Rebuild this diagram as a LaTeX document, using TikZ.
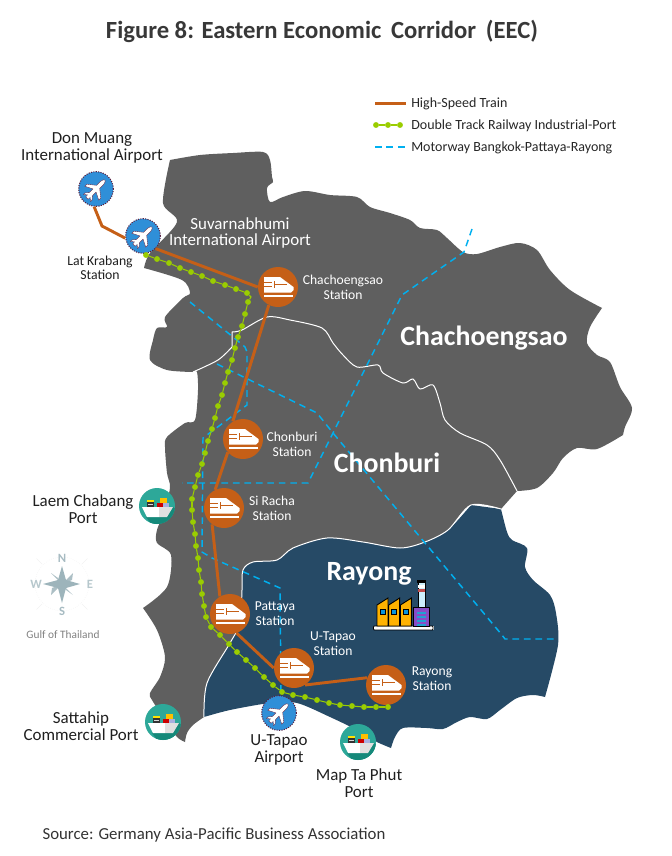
\documentclass[tikz,border=0pt]{standalone}
\usepackage{fontspec}
\setmainfont{Carlito}
\definecolor{land}{HTML}{5F5F5F}
\definecolor{ray}{HTML}{264A66}
\definecolor{rail}{HTML}{C55F17}
\definecolor{grn}{HTML}{9ACD00}
\definecolor{mway}{HTML}{00B0F0}
\definecolor{skyb}{HTML}{2F8FD8}
\definecolor{plum}{HTML}{5A1F3F}
\definecolor{teal1}{HTML}{2DA899}
\definecolor{teal2}{HTML}{15897A}
\definecolor{compc}{HTML}{9DB4BB}
\newcommand{\fsz}[2]{\fontsize{#1}{#2}\selectfont}
\tikzset{
  x=0.75pt,y=-0.75pt,
  stn/.style={circle,fill=rail,minimum size=30pt,inner sep=0pt},
  apt/.style={circle,fill=skyb,draw=plum,densely dotted,line width=.8pt,minimum size=26pt,inner sep=0pt},
  prt/.style={circle,fill=teal1,minimum size=27pt,inner sep=0pt},
  blk/.style={text=black!88,align=center,font=\fsz{12.7}{12.8}},
  blks/.style={text=black!88,align=center,font=\fsz{10.3}{10.5}},
  wht/.style={text=white,align=center,font=\fsz{10.2}{11}},
  whtl/.style={text=white,align=center,font=\fsz{12.7}{12.4}},
  bigl/.style={text=white,font=\bfseries\fsz{20.9}{23}},
  leg/.style={text=black!85,anchor=west,inner sep=0pt,font=\fsz{10.5}{12}},
  hsr/.style={rail,line width=2.2pt},
  dbl/.style={grn,line width=.8pt},
  gdot/.style={circle,fill=grn,minimum size=4.4pt,inner sep=0pt},
  mwy/.style={mway,line width=1.1pt,dash pattern=on 5pt off 3.6pt},
  bord/.style={white,line width=.75pt},
  pics/trainicon/.style={code={
    \fill[white] (-14,-10) -- (2,-10) -- (15.5,0) -- (15.5,3) -- (13,5.5) -- (-14,5.5) -- cycle;
    \fill[white] (-14,7.5) rectangle (15,9.5);
    \fill[rail] (-14,-5) rectangle (-6,-3.7);
    \fill[rail] (-14,-1) rectangle (-6,.3);
    \fill[rail] (-4.5,-6) rectangle (-3.3,1);
    \fill[rail] (-3.3,-2.8) rectangle (9,-1.6);
  }},
  pics/planeicon/.style={code={
    \begin{scope}[rotate=45,scale=.85]
    \fill[white,draw=plum,line width=.25pt]
      (-15,-2) -- (-12,-2.2) -- (-15,-6) -- (-12.5,-6) -- (-8.5,-2.6) -- (-2.5,-2.6)
      -- (-7,-11.5) -- (-3.5,-11.5) -- (3.5,-2.6) -- (10,-2.6) .. controls (13,-2.6) and (15,-1) .. (15,0)
      .. controls (15,1) and (13,2.6) .. (10,2.6) -- (3.5,2.6) -- (-3.5,11.5) -- (-7,11.5) -- (-2.5,2.6)
      -- (-8.5,2.6) -- (-12.5,6) -- (-15,6) -- (-12,2.2) -- (-15,2) -- cycle;
    \end{scope}
  }},
  pics/shipicon/.style={code={
    \begin{scope}
    \clip (0,0) circle (18);
    \fill[teal2] (-11,11) -- (16,1) -- (40,20) -- (10,40) -- cycle;
    \end{scope}
    \fill[black!80] (-10,-6) rectangle (-3,1);
    \fill[yellow!85!orange] (-10,-6) rectangle (-3,-4);
    \fill[white!85!black] (-9,-2.5) rectangle (-4,-1);
    \fill[red!80!black] (0,-3) rectangle (6,1);
    \fill[orange!50!yellow] (3,-8) rectangle (10,-3);
    \fill[cyan!30!blue!35] (6,-3) rectangle (12,1);
    \fill[white] (-15,1) -- (2,1) -- (2,11) -- (-10,11) -- cycle;
    \fill[black!12] (2,1) -- (16,1) -- (10,11) -- (2,11) -- cycle;
  }},
}
\begin{document}
\begin{tikzpicture}
\path[use as bounding box] (0,0) rectangle (671,856);
% land
\fill[land] plot[smooth,tension=.5] coordinates {(170,160)(200,155)(233,153)(263,152)(270,160)(272,177)(273,182)(267,188)(270,202)(283,197)(305,191)(330,195)(357,197)(370,207)(390,213)(410,220)(420,228)(437,230)(447,238)(463,252)(477,254)(500,247)(520,243)(537,250)(550,270)(570,290)(602,308)}
 -- plot[smooth,tension=.5] coordinates {(602,308)(590,327)(587,343)(597,355)(610,362)(620,387)(632,408)(625,427)(623,435)}
 -- plot[smooth,tension=.5] coordinates {(623,435)(597,449)(577,448)(563,458)(553,473)(537,488)(517,491)}
 -- (501,509)
 -- plot[smooth,tension=.5] coordinates {(501,509)(471,505)(448,530)(425,542)(400,548)(363,542)(327,538)(293,548)(277,560)(253,562)(243,570)(242,590)(240,623)(230,643)(207,683)(204,717)}
 -- plot[smooth,tension=.5] coordinates {(204,717)(193,725)(187,733)(185,742)}
 -- plot[smooth,tension=.5] coordinates {(185,742)(177,737)(165,720)(152,700)(150,693)(160,677)(165,657)(157,630)(143,608)}
 -- plot[smooth,tension=.5] coordinates {(143,608)(167,587)(171,555)(157,543)(157,530)(165,510)(170,487)(167,473)(165,447)(167,437)(185,423)(195,420)(198,390)(197,372)(193,372)}
 -- plot[smooth,tension=.5] coordinates {(193,372)(167,370)(150,360)(153,340)(157,328)(167,327)(165,317)(183,298)(190,293)(182,280)(144,268)}
 -- plot[smooth,tension=.5] coordinates {(144,268)(150,253)(177,222)(163,203)(170,160)} -- cycle;
% Rayong
\fill[ray] plot[smooth,tension=.5] coordinates {(501,509)(507,532)(512,540)(527,548)(525,567)(533,580)(550,595)(556,613)(558,645)(545,697)}
 -- plot[smooth,tension=.5] coordinates {(545,697)(533,695)(517,698)(500,710)(487,719)(470,717)(457,722)(443,729)(427,728)(403,728)(395,737)(391,748)}
 -- plot[smooth,tension=.5] coordinates {(391,748)(377,742)(363,733)(330,717)(297,703)(270,703)(230,710)(204,717)}
 -- plot[smooth,tension=.5] coordinates {(204,717)(207,683)(230,643)(240,623)(242,590)(243,570)(253,562)(277,560)(293,548)(327,538)(363,542)(400,548)(425,542)(448,530)(471,505)}
 -- cycle;
\draw[bord] plot[smooth,tension=.5] coordinates {(501,509)(471,505)(448,530)(425,542)(400,548)(363,542)(327,538)(293,548)(277,560)(253,562)(243,570)(242,590)(240,623)(230,643)(207,683)(204,717)};
\draw[bord] plot[smooth,tension=.5] coordinates {(193,372)(218,360)(232,347)} -- (232,332) -- plot[smooth,tension=.5] coordinates {(232,332)(242,330)(267,317)(290,320)(322,328)(333,343)(343,355)(357,367)(378,365)(383,373)(403,383)(413,379)(420,389)(433,385)(440,403)(445,420)(460,433)(487,445)(500,460)(517,491)};
% motorways
\coordinate (ma1) at (472,229); \coordinate (ma2) at (464,252); \coordinate (ma3) at (402,295); \coordinate (mx) at (333,433); \coordinate (ma5) at (308,483); \coordinate (ma6) at (182,483);
\draw[mwy] (ma1) -- (ma2) -- (ma3) -- (mx) -- (ma5) -- (ma6);
\coordinate (mb1) at (190,302); \coordinate (mb2) at (233,337); \coordinate (mb3) at (245,347); \coordinate (mb4) at (247,352); \coordinate (mb5) at (247,405); \coordinate (mb6) at (203,438); \coordinate (mb7) at (202,552); \coordinate (mb8) at (212,558); \coordinate (mb9) at (280,588); \coordinate (mb10) at (281,695);
\draw[mwy] (mb1) -- (mb2) -- (mb3) -- (mb4) -- (mb5) -- (mb6) -- (mb7) -- (mb8) -- (mb9) -- (mb10);
\coordinate (mc1) at (217,364); \coordinate (mc2) at (317,413); \coordinate (mc3) at (502,635); \coordinate (mc4) at (505,639); \coordinate (mc5) at (557,639);
\draw[mwy] (mc1) -- (mc2) -- (mx) -- (mc3) -- (mc4) -- (mc5);
% titles and labels
\node (title) at (322,31) [text=black!78,font=\bfseries\fsz{18.5}{20}] {Figure 8: Eastern Economic\, Corridor\, (EEC)};
\node (source) at (214,835) [text=black!80,font=\fsz{12.6}{14}] {Source: Germany Asia-Pacific Business Association};
\node (lb1) at (92,148) [blk] {Don Muang\\International Airport};
\node (lb2) at (240,233) [whtl] {Suvarnabhumi\\International Airport};
\node (lb3) at (100,268) [blks] {Lat Krabang\\Station};
\node (lb4) at (343,287) [wht] {Chachoengsao\\Station};
\node (lb5) at (292,444) [wht] {Chonburi\\Station};
\node (lb6) at (272,508) [wht] {Si Racha\\Station};
\node (lb7) at (275,614) [wht] {Pattaya\\Station};
\node (lb8) at (333,644) [wht] {U-Tapao\\Station};
\node (lb9) at (432,679) [wht] {Rayong\\Station};
\node (lb10) at (83,509) [blk] {Laem Chabang\\Port};
\node (lb11) at (81,726) [blk] {Sattahip\\Commercial Port};
\node (lb12) at (279,750) [blk] {U-Tapao\\Airport};
\node (lb13) at (359,783) [blk] {Map Ta Phut\\Port};
\node (big1) at (484,338) [bigl] {Chachoengsao};
\node (big2) at (387,463) [bigl] {Chonburi};
\node (big3) at (369,574) [bigl] {Rayong};
% stations and icons
\node[stn] (schach) at (278,287) {};
\node[stn] (schon) at (243,439) {};
\node[stn] (ssira) at (224,508) {};
\node[stn] (spatt) at (230,614) {};
\node[stn] (sutap) at (294,668) {};
\node[stn] (srayo) at (386,685) {};
\node[apt] (adon) at (96,189) {};
\node[apt] (asuv) at (143,236) {};
\node[apt] (autp) at (279,713) {};
\node[prt] (plaem) at (157,506) {};
\node[prt] (psatt) at (163,722) {};
\node[prt] (pmap) at (358,742) {};
\foreach \n in {schach,schon,ssira,spatt,sutap,srayo} \pic at (\n) {trainicon};
\foreach \n in {adon,asuv,autp} \pic at (\n) {planeicon};
\foreach \n in {plaem,psatt,pmap} \pic at (\n) {shipicon};
% high-speed line
\coordinate (h2) at (102,226);
\draw[hsr] (adon.264) -- (h2) -- (asuv.187);
\draw[hsr] (asuv.315) -- (schach.180);
\draw[hsr] (schach.243) -- (schon.120);
\draw[hsr] (schon.221) -- (ssira.116);
\draw[hsr] (ssira.234) -- (spatt.120);
\draw[hsr] (spatt.289) -- (sutap.180);
\draw[hsr] (sutap.303) -- (srayo.159);
% railway
\foreach \x/\y [count=\i] in {146/255,157/259,169/263,180/268,191/272,202/276,213/281,225/285,236/289,247/293}{\node[gdot] (ga\i) at (\x,\y) {};}
\foreach \x/\y [count=\i] in {248/302,245/314,242/326,238/337,235/348,232/360,228/372,225/383,222/395,218/406,215/418,212/429,208/441,205/453,202/464,198/475,195/487,192/499,192/510,193/522,195/534,196/546,198/558,199/570,201/582,202/594,204/606,206/617,211/627,220/635,229/644,237/652,246/660,255/668,264/677,273/685,282/692,293/695,305/697,317/700,329/703,340/705,352/706,364/707,376/707,388/707}{\node[gdot] (gb\i) at (\x,\y) {};}
\foreach \i [remember=\i as \j (initially 1)] in {2,...,10} \draw[dbl] (ga\j) -- (ga\i);
\foreach \i [remember=\i as \j (initially 1)] in {2,...,46} \draw[dbl] (gb\j) -- (gb\i);
\coordinate (gc) at (251,297);
\draw[dbl] (ga10) -- (gc) -- (gb1);
% legend
\coordinate (l1a) at (375,103.5); \coordinate (l1b) at (406,103.5);
\draw[hsr] (l1a) -- (l1b);
\node[leg] (lt1) at (411,103.5) {High-Speed Train};
\node[gdot] (l2a) at (376,125) {}; \node[gdot] (l2b) at (388,125) {}; \node[gdot] (l2c) at (400,125) {};
\draw[grn,line width=1.1pt] (l2a) -- (l2b) -- (l2c);
\node[leg] (lt2) at (411,126) {Double Track Railway Industrial-Port};
\coordinate (l3a) at (375,147); \coordinate (l3b) at (406,147);
\draw[mwy] (l3a) -- (l3b);
\node[leg] (lt3) at (411,148) {Motorway Bangkok-Pattaya-Rayong};
% factory
\fill[white] (373,626) rectangle (434,630);
\draw[black,line width=.7pt,rounded corners=.5pt] (373.5,626) rectangle (433,630);
\foreach \bx in {377,388.7,400.4}{
  \fill[orange!60!yellow,draw=black,line width=.7pt] (\bx,605) -- (\bx+11,598) -- (\bx+11,626) -- (\bx,626) -- cycle;
  \fill[cyan!80!blue,draw=black,line width=.6pt] (\bx+3,609) rectangle (\bx+8,614);
}
\fill[cyan!20!white,draw=black,line width=.7pt] (418,582) rectangle (425,607);
\fill[red!65!black!70] (418.3,589) rectangle (424.7,592);
\fill[white] (418.3,585) rectangle (424.7,588);
\fill[black] (417,580) rectangle (426,583);
\fill[violet!65!blue!70,draw=black,line width=.7pt] (413,607) rectangle (429.5,626);
\foreach \sy in {612,616,620,624} \fill[cyan!70!teal] (417,\sy) rectangle (425.5,\sy+2.2);
% compass
\draw[black!4,line width=.5pt,densely dotted] (62,584) circle (27);
\foreach \a in {45,135,225,315} \draw[black!5,line width=.4pt] (62,584) ++(\a:28) -- ++(\a:8);
\fill[compc!85] (62,584) -- (70,576) -- (73,573) -- (72,580) -- (62,584) -- (70,592) -- (73,595) -- (66,590) -- (62,584) -- (54,592) -- (51,595) -- (52,588) -- (62,584) -- (54,576) -- (51,573) -- (58,578) -- cycle;
\fill[compc] (62,566) -- (66,580) -- (80,584) -- (66,588) -- (62,603) -- (58,588) -- (43,584) -- (58,580) -- cycle;
\node (cn) at (62,558) [text=compc!90,font=\bfseries\fsz{9.5}{10}] {N};
\node (cs) at (62,611) [text=compc!90,font=\bfseries\fsz{9.5}{10}] {S};
\node (cw) at (36,584) [text=compc!75,font=\bfseries\fsz{9.5}{10}] {W};
\node (ce) at (90,584) [text=compc!75,font=\bfseries\fsz{9.5}{10}] {E};
\node (gulf) at (63,635) [text=black!50,font=\fsz{8.5}{10}] {Gulf of Thailand};
\end{tikzpicture}
\end{document}
